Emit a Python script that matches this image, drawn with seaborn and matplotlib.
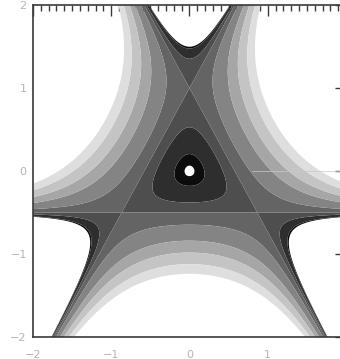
import numpy as np
import matplotlib
matplotlib.use("Agg")
import matplotlib.pyplot as plt
import seaborn as sns

# Henon-Heiles potential, filled contour levels and grey shades
levels = [0.002, 0.018, 0.09, 1.0 / 6.0, 0.3, 0.55, 0.8, 1.1, 1.4]
shades = ["#0c0c0c", "#2e2e2e", "#4e4e4e", "#646464", "#848484",
          "#a6a6a6", "#c4c4c4", "#dedede"]
xticks = [-2, -1, 0, 1, 2]
yticks = [-2, -1, 0, 1, 2]
xtick_labels = ["\u22122", "\u22121", "0", "1", ""]
ytick_labels = ["\u22122", "\u22121", "0", "1", "2"]

sns.set_theme(style="white")
plt.rcParams["font.family"] = ["DejaVu Sans"]

x = np.linspace(-2, 2, 600)
y = np.linspace(-2, 2, 600)
X, Y = np.meshgrid(x, y)
V = 0.5 * (X**2 + Y**2) + X**2 * Y - Y**3 / 3.0

fig = plt.figure(figsize=(3.40, 3.59), dpi=100)
ax = fig.add_axes([33 / 340, 22 / 359, 313 / 340, 332 / 359])
ax.contourf(X, Y, V, levels=levels, colors=shades, antialiased=True)
ax.plot([0.8, 2.0], [0.0, 0.0], color="#c8c8c8", lw=0.5)

ax.set_xlim(-2, 2)
ax.set_ylim(-2, 2)
ax.set_xticks(xticks)
ax.set_yticks(yticks)
ax.set_xticks(np.arange(-2, 2.001, 0.1), minor=True)
ax.set_yticks(np.arange(-2, 2.001, 0.1), minor=True)
ax.set_xticklabels(xtick_labels)
ax.set_yticklabels(ytick_labels)
ax.tick_params(which="both", direction="in", top=True, right=True,
               color="#3a3a3a", width=1.0)
ax.tick_params(which="major", length=8)
ax.tick_params(which="minor", length=4.5)
ax.tick_params(axis="x", which="major", pad=9, labelsize=8, labelcolor="#b4b4b4")
ax.tick_params(axis="y", which="major", pad=4.5, labelsize=8, labelcolor="#b4b4b4")
for s in ax.spines.values():
    s.set_color("#3a3a3a")
    s.set_linewidth(1.2)

fig.savefig("out.png", dpi=100)
